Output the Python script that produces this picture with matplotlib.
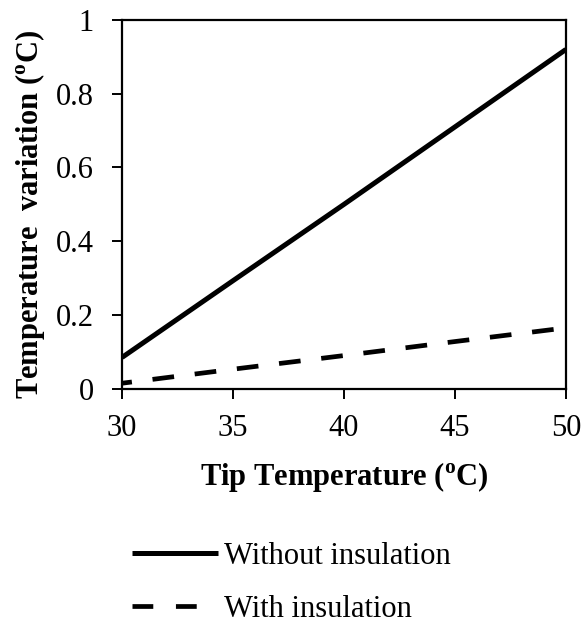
import matplotlib.pyplot as plt
from matplotlib.ticker import FormatStrFormatter

plt.rcParams['font.family'] = ['Liberation Serif', 'DejaVu Serif']
plt.rcParams['mathtext.fontset'] = 'custom'
plt.rcParams['mathtext.rm'] = 'Liberation Serif'
plt.rcParams['mathtext.bf'] = 'Liberation Serif:bold'

tip_temperature = [30, 35, 40, 45, 50]
without_insulation = [0.085, 0.293, 0.50, 0.71, 0.92]
with_insulation = [0.015, 0.053, 0.09, 0.128, 0.165]

x_ticks = [30, 35, 40, 45, 50]
y_ticks = [0, 0.2, 0.4, 0.6, 0.8, 1]

fig = plt.figure(figsize=(5.84, 6.24), dpi=100)
ax = fig.add_axes([0.209, 0.377, 0.760, 0.591])

ax.plot(tip_temperature, without_insulation, color='black', linewidth=3.6,
        solid_capstyle='butt', label='Without insulation')
ax.plot(tip_temperature, with_insulation, color='black', linewidth=3.4,
        linestyle=(2.5, (4.6, 4.4)), dash_capstyle='butt',
        label='With insulation')

ax.set_xlim(30, 50)
ax.set_ylim(0, 1)
ax.set_xticks(x_ticks)
ax.set_yticks(y_ticks)
ax.yaxis.set_major_formatter(FormatStrFormatter('%g'))

for spine in ax.spines.values():
    spine.set_linewidth(1.6)
ax.tick_params(direction='out', length=7.5, width=1.4, labelsize=22)
ax.tick_params(axis='x', pad=11)
ax.tick_params(axis='y', pad=13)

ax.set_xlabel(r'Tip Temperature ($^{\mathbf{o}}$C)', fontsize=22,
              fontweight='bold', labelpad=12)
ax.set_ylabel(r'Temperature  variation ($^{\mathbf{o}}$C)', fontsize=22,
              fontweight='bold')
ax.yaxis.set_label_coords(-0.168, 0.473)

leg = fig.legend(loc='center', bbox_to_anchor=(0.499, 0.066), frameon=False,
                 fontsize=22, handlelength=2.8, handletextpad=0.2,
                 labelspacing=0.8)
# legend swatch: two full dashes
leg.get_lines()[1].set_linestyle((0, (4.4, 4.8)))

fig.savefig('out.png', dpi=100)
